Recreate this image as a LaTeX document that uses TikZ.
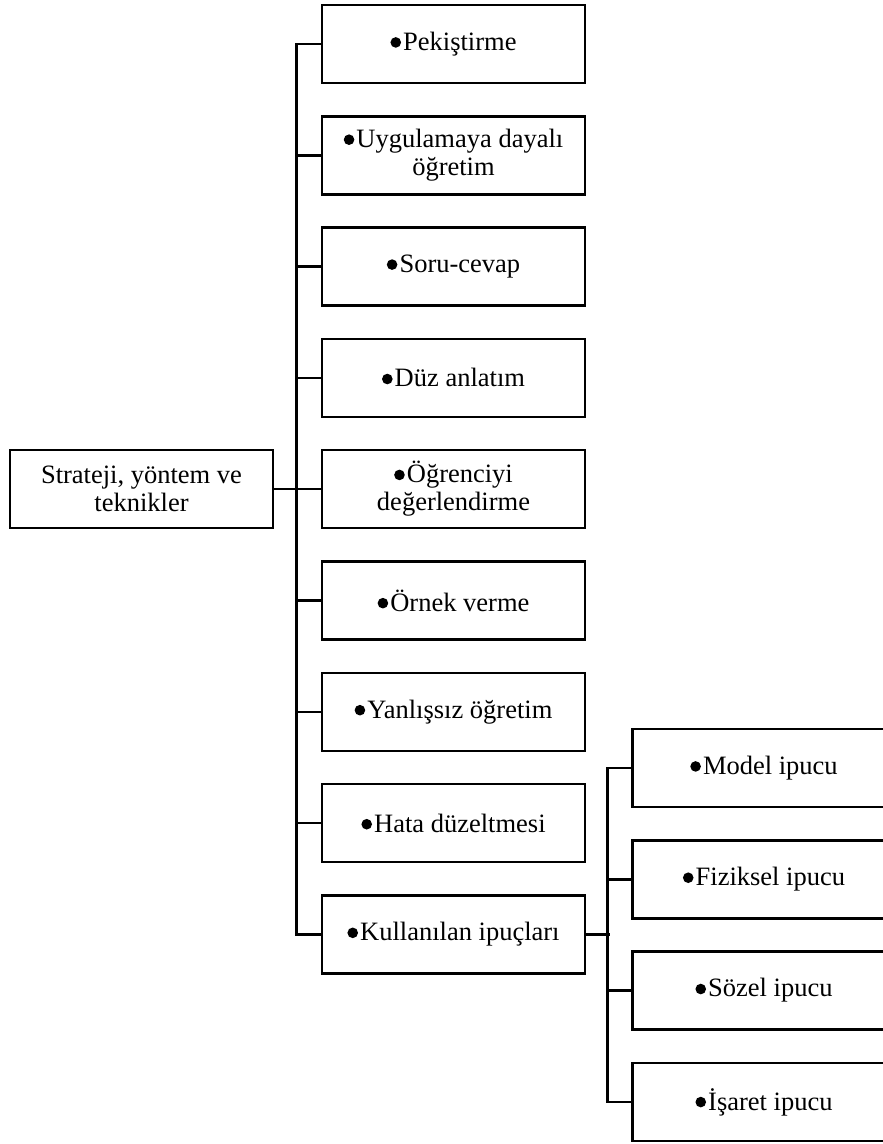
\documentclass[tikz,border=0pt]{standalone}
\usepackage{fontspec}
\setmainfont{Liberation Serif}
% round list bullet drawn as a filled dot sized to the text
\newcommand{\dotmark}{\tikz[baseline=0pt]\fill (0.2em,0.3em) circle (0.2em);\hspace{0.08em}}
\begin{document}
\begin{tikzpicture}[x=1pt,y=-1pt,
  box/.style={draw,line width=2.6pt,minimum width=263pt,minimum height=78pt,
    inner sep=2pt,align=center,font=\fontsize{26.5}{28}\selectfont},
  link/.style={line width=2.6pt}]
\useasboundingbox (0,0) rectangle (883,1144);
\clip (0,0) rectangle (883,1144);

% root
\node[box] (root) at (141.5,489) {Strateji, yöntem ve\\teknikler};

% first level
\node[box] (b0) at (453.5,44.0)  {\dotmark Pekiştirme};
\node[box] (b1) at (453.5,155.3) {\dotmark Uygulamaya dayalı\\öğretim};
\node[box] (b2) at (453.5,266.6) {\dotmark Soru-cevap};
\node[box] (b3) at (453.5,377.9) {\dotmark Düz anlatım};
\node[box] (b4) at (453.5,489.0) {\dotmark Öğrenciyi\\değerlendirme};
\node[box] (b5) at (453.5,600.5) {\dotmark Örnek verme};
\node[box] (b6) at (453.5,711.8) {\dotmark Yanlışsız öğretim};
\node[box] (b7) at (453.5,823.1) {\dotmark Hata düzeltmesi};
\node[box] (b8) at (453.5,934.4) {\dotmark Kullanılan ipuçları};

% cues
\node[box] (c0) at (764,768.0)  {\dotmark Model ipucu};
\node[box] (c1) at (764,879.3)  {\dotmark Fiziksel ipucu};
\node[box] (c2) at (764,990.6)  {\dotmark Sözel ipucu};
\node[box] (c3) at (764,1101.9) {\dotmark İşaret ipucu};

% connectors of the first level
\draw[link] (root.east) -- (b4.west);
\draw[link] (b0.west) -- ++(-24,0) |- (b8.west);
\foreach \i in {1,2,3,5,6,7}
  \draw[link] (b\i.west) -- ++(-24,0);

% connectors of the cues
\draw[link] (b8.east) -- ++(24,0);
\draw[link] (c0.west) -- ++(-24,0) |- (c3.west);
\foreach \i in {1,2}
  \draw[link] (c\i.west) -- ++(-24,0);
\end{tikzpicture}
\end{document}
